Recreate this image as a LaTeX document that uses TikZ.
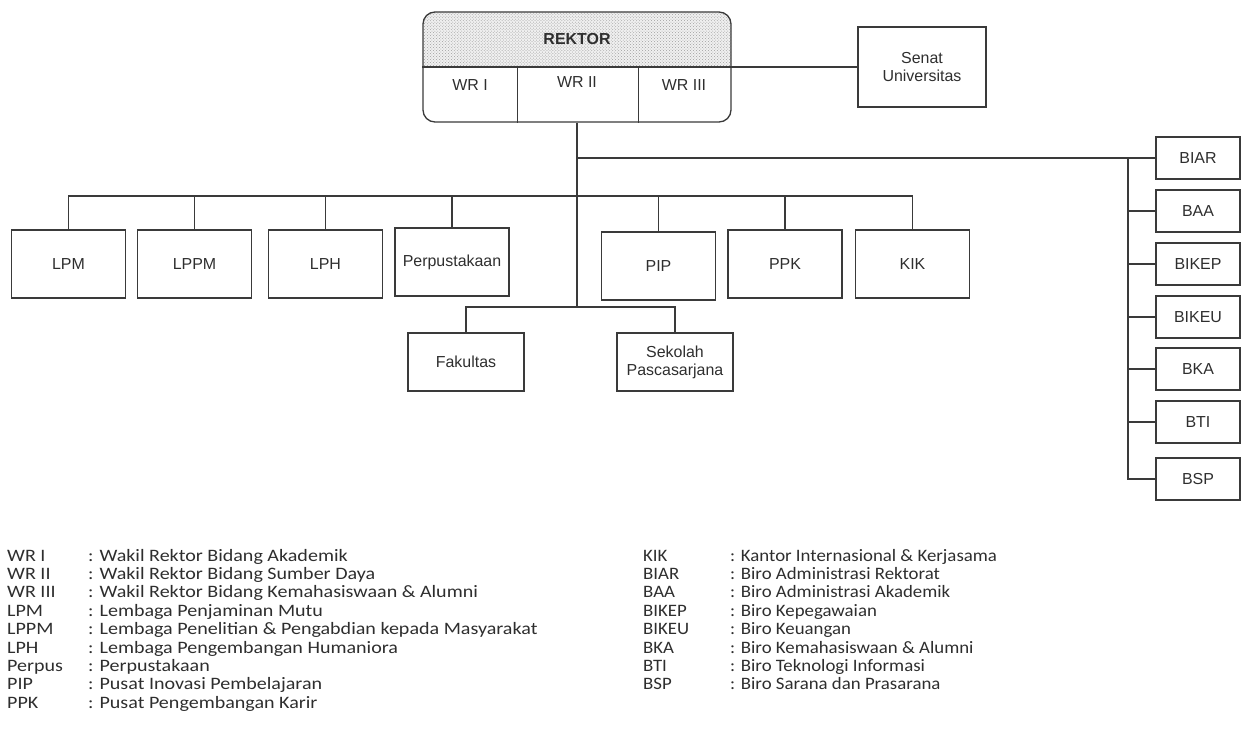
\documentclass[tikz,border=0pt]{standalone}
\usepackage{fontspec}
\setmainfont{Liberation Sans}
\newfontfamily\legendfont[FakeStretch=1.08]{Carlito}
\newfontfamily\legendwide[FakeStretch=1.15]{Carlito}
\usetikzlibrary{patterns}
\definecolor{linecol}{HTML}{3A3A3A}
\definecolor{txtcol}{HTML}{2E2E2E}
\begin{document}
\begin{tikzpicture}[x=1bp,y=-1bp,
  conn/.style={draw=linecol, line width=1.3bp},
  box/.style={draw=linecol, line width=1.2bp, minimum width=114bp, minimum height=68bp, inner sep=0pt, text=txtcol, font=\fontsize{16}{18}\selectfont, align=center},
  rbox/.style={box, minimum width=84bp, minimum height=42bp},
  fbox/.style={box, minimum width=116bp, minimum height=58bp},
  wr/.style={inner sep=0pt, text=txtcol, font=\fontsize{16}{18}\selectfont},
  leg/.style={anchor=base west, inner sep=0pt, text=txtcol, font=\legendfont\fontsize{17.5}{18}\selectfont},
  legw/.style={leg, font=\legendwide\fontsize{17.5}{18}\selectfont}
]
\useasboundingbox (0,0) rectangle (1245,738);

% REKTOR block
\begin{scope}
  \clip[rounded corners=12bp] (423,12) rectangle (731,122);
  \fill[gray!12] (423,12) rectangle (731,67);
  \fill[pattern=crosshatch dots, pattern color=gray!75] (423,12) rectangle (731,67);
\end{scope}
\node[draw=linecol, line width=1.3bp, rounded corners=12bp, minimum width=308bp, minimum height=110bp, inner sep=0pt] (rektor) at (577,67) {};
\draw[conn] (rektor.west) -- (rektor.east);
\draw[conn, line width=0.8bp] ([xshift=-60bp]rektor.center) -- ([xshift=-60bp]rektor.south);
\draw[conn, line width=0.8bp] ([xshift=61bp]rektor.center) -- ([xshift=61bp]rektor.south);
\node[wr, font=\bfseries\fontsize{16}{18}\selectfont] (rtitle) at (577,39) {REKTOR};
\node[wr] (wr1) at (470,85) {WR I};
\node[wr] (wr2) at (577,82) {WR II};
\node[wr] (wr3) at (684,85) {WR III};

% Senat
\node[box, minimum width=128bp, minimum height=80bp] (senat) at (922,67) {Senat\\Universitas};
\draw[conn] (rektor.east) -- (senat.west);

% Top row
\node[box] (lpm) at (68.5,264) {LPM};
\node[box] (lppm) at (194.5,264) {LPPM};
\node[box] (lph) at (325.5,264) {LPH};
\node[box] (perp) at (452,262) {Perpustakaan};
\node[box] (pip) at (658.5,266) {PIP};
\node[box] (ppk) at (785,264) {PPK};
\node[box] (kik) at (912.5,264) {KIK};

% Fakultas row
\node[fbox] (fak) at (466,362) {Fakultas};
\node[fbox] (sek) at (675,362) {Sekolah\\Pascasarjana};

% Right column
\node[rbox] (biar) at (1198,158) {BIAR};
\node[rbox] (baa) at (1198,211) {BAA};
\node[rbox] (bikep) at (1198,264) {BIKEP};
\node[rbox] (bikeu) at (1198,317) {BIKEU};
\node[rbox] (bka) at (1198,369) {BKA};
\node[rbox] (bti) at (1198,422) {BTI};
\node[rbox] (bsp) at (1198,479) {BSP};

% Connectors
\coordinate (jf) at (577,307);
\coordinate (bus) at (577,196);
\coordinate (jr) at (577,158);
\coordinate (rv) at (1128,158);
\draw[conn] (rektor.south) -- (jf);
\draw[conn] (fak.north) |- (jf) -| (sek.north);
\draw[conn] (lpm.north) |- (bus -| kik.north) -- (kik.north);
\foreach \n in {lppm,lph,perp,pip,ppk}{\draw[conn] (bus -| \n.north) -- (\n.north);}
\draw[conn] (jr) -- (biar.west);
\draw[conn] (rv) |- (bsp.west);
\foreach \n in {baa,bikep,bikeu,bka,bti}{\draw[conn] (rv |- \n.west) -- (\n.west);}

% Legend left
\foreach \a/\t [count=\i from 0] in {
  WR I/{: Wakil Rektor Bidang Akademik},
  WR II/{: Wakil Rektor Bidang Sumber Daya},
  WR III/{: Wakil Rektor Bidang Kemahasiswaan \& Alumni},
  LPM/{: Lembaga Penjaminan Mutu},
  LPPM/{: Lembaga Penelitian \& Pengabdian kepada Masyarakat},
  LPH/{: Lembaga Pengembangan Humaniora},
  Perpus/{: Perpustakaan},
  PIP/{: Pusat Inovasi Pembelajaran},
  PPK/{: Pusat Pengembangan Karir}}{
  \node[legw] (la\i) at (7,561+18.4*\i) {\a};
  \node[legw] (lt\i) at (88,561+18.4*\i) {\t};
}
% Legend right
\foreach \a/\t [count=\i from 0] in {
  KIK/{: Kantor Internasional \& Kerjasama},
  BIAR/{: Biro Administrasi Rektorat},
  BAA/{: Biro Administrasi Akademik},
  BIKEP/{: Biro Kepegawaian},
  BIKEU/{: Biro Keuangan},
  BKA/{: Biro Kemahasiswaan \& Alumni},
  BTI/{: Biro Teknologi Informasi},
  BSP/{: Biro Sarana dan Prasarana}}{
  \node[leg] (ra\i) at (643,561+18.4*\i) {\a};
  \node[leg] (rt\i) at (730,561+18.4*\i) {\t};
}
\end{tikzpicture}
\end{document}
